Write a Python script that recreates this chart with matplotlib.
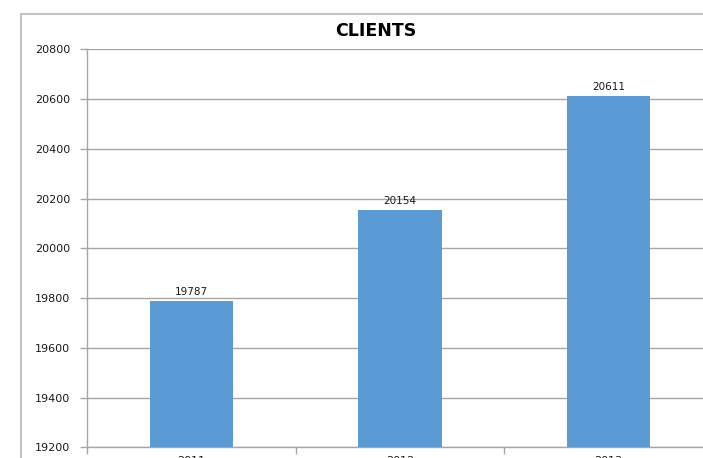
import matplotlib
matplotlib.use("Agg")
import matplotlib.pyplot as plt
from matplotlib.lines import Line2D

# Data
years = ["2011", "2012", "2013"]
clients = [19787, 20154, 20611]
y_ticks = [19200, 19400, 19600, 19800, 20000, 20200, 20400, 20600, 20800]

BAR_COLOR = "#5B9BD5"
GRID_COLOR = "#A6A6A6"
FRAME_COLOR = "#C4C4C4"
TEXT_COLOR = "#1a1a1a"

W, H = 703, 458
fig = plt.figure(figsize=(W / 100, H / 100), dpi=100)
fig.patch.set_facecolor("white")

# Plot area in pixel terms
left_px, right_px = 87, 713
top_px, bottom_px = 49.3, 447.3
ax = fig.add_axes([left_px / W, 1 - bottom_px / H,
                   (right_px - left_px) / W, (bottom_px - top_px) / H])

x = list(range(len(years)))
bars = ax.bar(x, clients, width=0.40, color=BAR_COLOR, zorder=3)

ax.set_xlim(-0.5, len(years) - 0.5)
ax.set_ylim(y_ticks[0], y_ticks[-1])
ax.set_yticks(y_ticks)
ax.set_yticklabels([str(t) for t in y_ticks])

# Category labels centred on bars, tick marks at category boundaries
ax.set_xticks(x)
ax.set_xticklabels(years)
ax.set_xticks([i + 0.5 for i in range(-1, len(years))], minor=True)
ax.tick_params(axis="x", which="major", length=0, pad=6,
               labelsize=8, labelcolor=TEXT_COLOR)
ax.tick_params(axis="x", which="minor", length=5, width=1, color=GRID_COLOR)
ax.tick_params(axis="y", length=5, width=1, color=GRID_COLOR,
               labelsize=8, labelcolor=TEXT_COLOR, pad=7)

ax.yaxis.grid(True, color=GRID_COLOR, linewidth=1)
ax.set_axisbelow(True)
for side in ["top", "right"]:
    ax.spines[side].set_visible(False)
for side in ["left", "bottom"]:
    ax.spines[side].set_color(GRID_COLOR)
    ax.spines[side].set_linewidth(1)

# Value labels above bars
for xi, v in zip(x, clients):
    ax.annotate(str(v), (xi, v), xytext=(0, 3), textcoords="offset points",
                ha="center", va="bottom", fontsize=7.5, color=TEXT_COLOR)

# Title
fig.text(375.5 / W, 1 - 30.5 / H, "CLIENTS", ha="center", va="center",
         fontsize=12.5, fontweight="bold", color="black")

# Chart area border (top and left edges)
fl, ft = 21 / W, 1 - 14 / H
fig.add_artist(Line2D([fl, fl], [0, ft], color=FRAME_COLOR, linewidth=1.5,
                      transform=fig.transFigure))
fig.add_artist(Line2D([fl, 1], [ft, ft], color=FRAME_COLOR, linewidth=1.5,
                      transform=fig.transFigure))

fig.savefig("out.png", dpi=100)
